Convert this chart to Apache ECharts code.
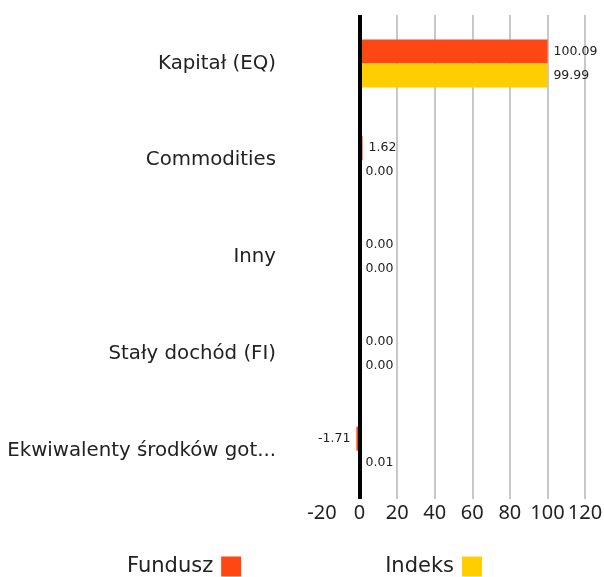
<!DOCTYPE html>
<html><head><meta charset="utf-8">
<script src="https://cdn.jsdelivr.net/npm/echarts@6/dist/echarts.min.js"></script>
<style>html,body{margin:0;padding:0;background:#fff}#c{width:604px;height:577px}</style>
</head><body><div id="c"></div>
<script>
const categories = ['Kapitał (EQ)', 'Commodities', 'Inny', 'Stały dochód (FI)', 'Ekwiwalenty środków got...'];
const fundusz = [100.09, 1.62, 0.00, 0.00, -1.71];
const indeks = [99.99, 0.00, 0.00, 0.00, 0.01];
const xTicks = { min: -20, max: 120, interval: 20 };
const FONT = 'DejaVu Sans';
const chart = echarts.init(document.getElementById('c'));
function mk(vals){
  return vals.map(v => ({ value: v, label: { position: v < 0 ? 'left' : 'right' } }));
}
const lbl = { show: true, fontSize: 12.5, color: '#222', fontFamily: FONT, distance: 6,
  formatter: p => Number(p.value).toFixed(2) };
chart.setOption({
  animation: false,
  textStyle: { fontFamily: FONT },
  grid: { left: 322, right: 19, top: 15, bottom: 78, containLabel: false, outerBoundsMode: 'none' },
  legend: {
    left: 122, top: 551, itemWidth: 20, itemHeight: 20, itemGap: 144, align: 'right',
    icon: 'rect',
    textStyle: { fontSize: 21, color: '#222', fontFamily: FONT, padding: [0, 3, 0, 0] },
    data: ['Fundusz', 'Indeks']
  },
  xAxis: {
    type: 'value', min: xTicks.min, max: xTicks.max, interval: xTicks.interval,
    axisLine: { show: false }, axisTick: { show: false },
    axisLabel: { fontSize: 20, color: '#222', margin: 4, fontFamily: 'Noto Sans',
      hideOverlap: false, showMinLabel: true, showMaxLabel: true },
    splitLine: { show: true, lineStyle: { width: 2,
      color: ['rgba(0,0,0,0)', 'rgba(0,0,0,0)', '#c8c8c8', '#c8c8c8', '#c8c8c8', '#c8c8c8', '#c8c8c8', '#c8c8c8'] } }
  },
  yAxis: {
    type: 'category', data: categories, inverse: true,
    axisLine: { show: false }, axisTick: { show: false },
    axisLabel: { fontSize: 19.75, color: '#222', margin: 46, fontFamily: FONT }
  },
  series: [
    { name: 'Fundusz', type: 'bar', data: mk(fundusz), barWidth: 24, barGap: '0%',
      itemStyle: { color: '#FF4713' }, label: lbl,
      markLine: { silent: true, symbol: 'none', label: { show: false },
        lineStyle: { color: '#000', width: 4, type: 'solid' }, data: [{ xAxis: 0 }] } },
    { name: 'Indeks', type: 'bar', data: mk(indeks), barWidth: 24,
      itemStyle: { color: '#FFCE00' }, label: lbl }
  ]
});
</script></body></html>
